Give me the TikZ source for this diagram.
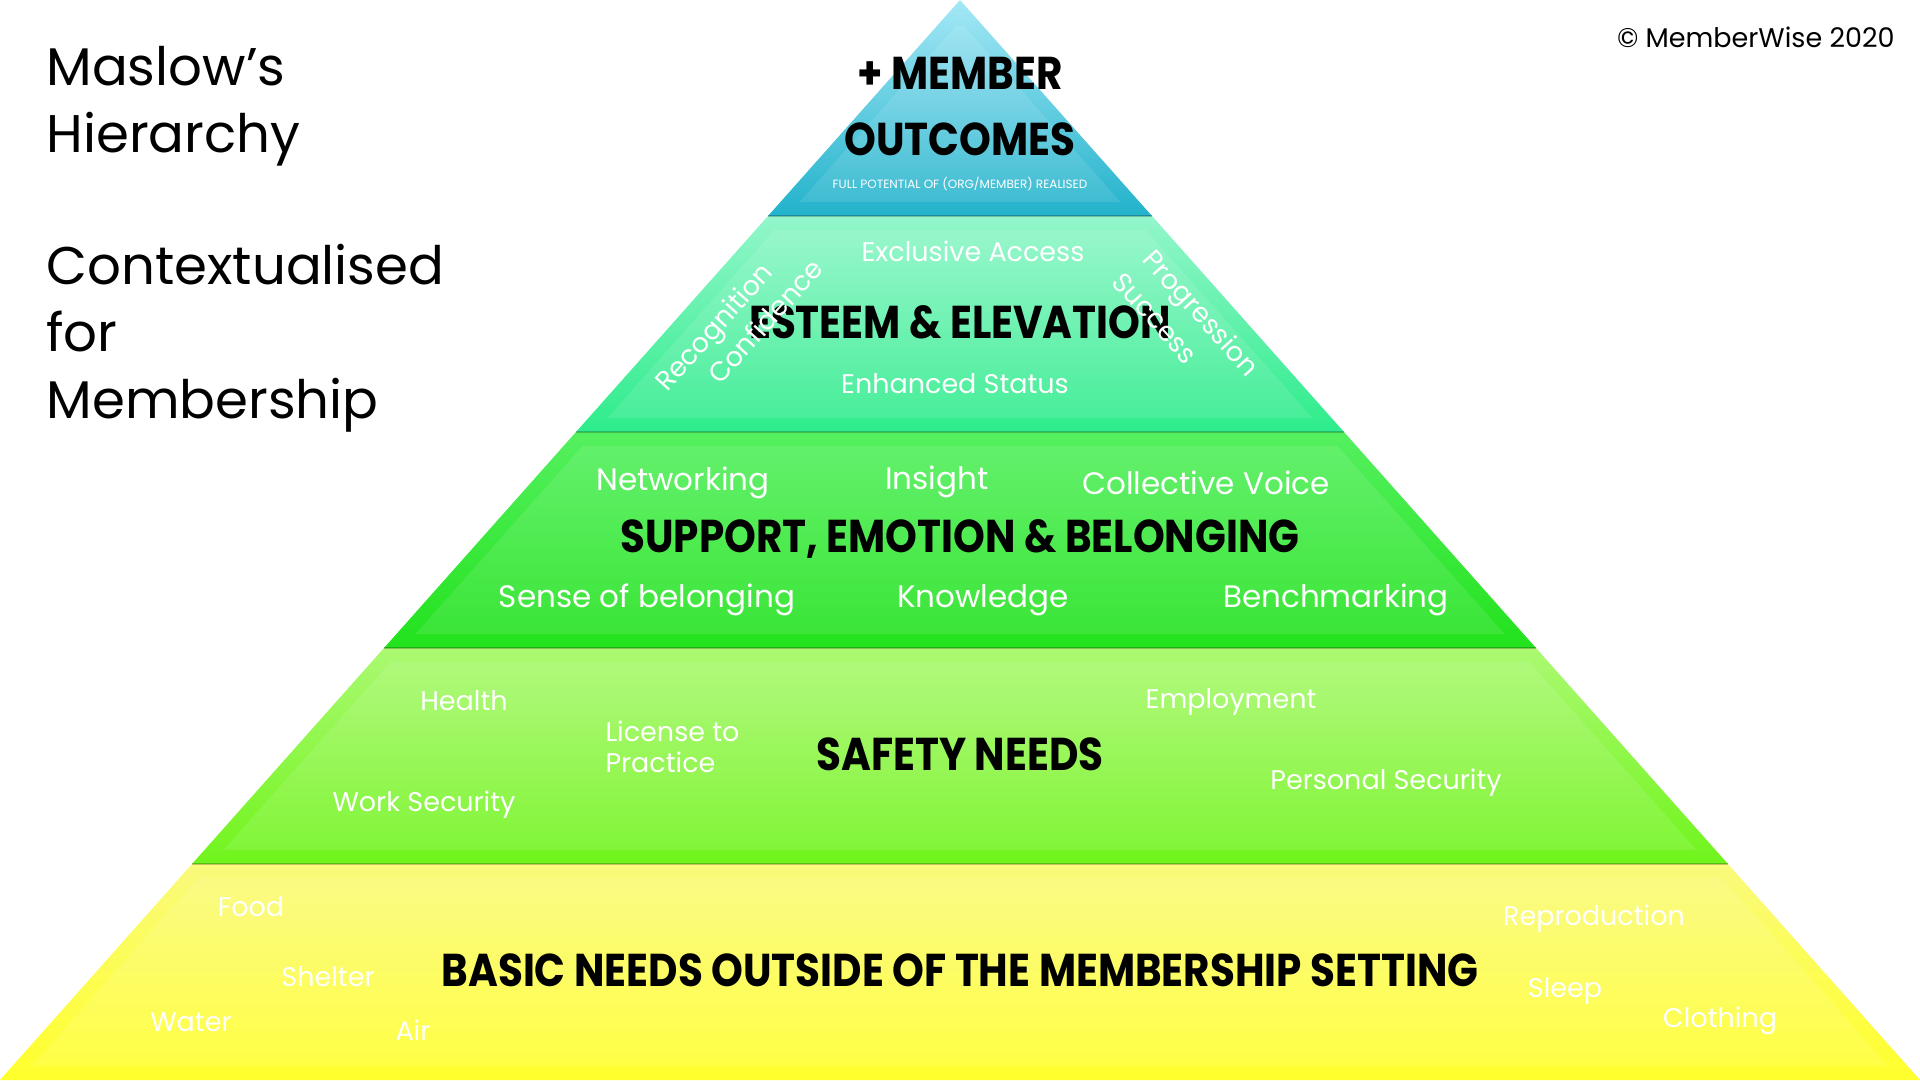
\documentclass[tikz,border=0pt]{standalone}
\usepackage{fontspec}
\setmainfont{Poppins}
\newfontfamily\headfont[FakeStretch=0.88]{Poppins}

\definecolor{capTop}{HTML}{A4E8F6}
\definecolor{capBot}{HTML}{22B2CB}
\definecolor{estTop}{HTML}{93F6CB}
\definecolor{estBot}{HTML}{2DEC8A}
\definecolor{supTop}{HTML}{55F060}
\definecolor{supBot}{HTML}{22E21C}
\definecolor{safTop}{HTML}{ABF972}
\definecolor{safBot}{HTML}{70F41C}
\definecolor{basTop}{HTML}{FAFA7C}
\definecolor{basBot}{HTML}{FFFF2C}

\begin{document}
\begin{tikzpicture}[
    x=1pt, y=-1pt,
    heading/.style={font=\headfont\bfseries\fontsize{46}{66}\selectfont, align=center},
    tag/.style={text=white, font=\fontsize{27}{31}\selectfont, align=left},
    bigtag/.style={tag, font=\fontsize{31}{35}\selectfont},
    title/.style={anchor=base west, align=left, font=\fontsize{53}{67}\selectfont}
]
\useasboundingbox (0,0) rectangle (1920,1080);

% pyramid layers, apex at (960,0), base on the bottom edge
\foreach \ya/\yb/\yi/\ct/\cb in {0/216/26/capTop/capBot, 216/432/230/estTop/estBot,
    432/648/446/supTop/supBot, 648/864/662/safTop/safBot, 864/1080/878/basTop/basBot} {
  \shade[top color=\ct, bottom color=\cb]
    ({960-0.8889*\ya},\ya) -- ({960+0.8889*\ya},\ya) -- ({960+0.8889*\yb},\yb) -- ({960-0.8889*\yb},\yb) -- cycle;
  \fill[white, opacity=.1]
    ({960-0.8889*\yi+19},\yi) -- ({960+0.8889*\yi-19},\yi) -- ({960+0.8889*(\yb-14)-19},\yb-14) -- ({960-0.8889*(\yb-14)+19},\yb-14) -- cycle;
  \draw[black, opacity=.22, line width=2.5] ({960-0.8889*\ya},\ya) -- ({960+0.8889*\ya},\ya);
}

\node[title] (maslow) at (43,152) {Maslow’s\\Hierarchy};
\node[title] (context) at (43,418) {Contextualised\\for\\Membership};
\node[anchor=base east, font=\fontsize{27}{31}\selectfont] (credit) at (1898,47) {© MemberWise 2020};

% top
\node[heading] (outcomes) at (960,107) {+ MEMBER\\OUTCOMES};
\node[text=white, font=\fontsize{12}{14}\selectfont] (potential) at (960,184) {FULL POTENTIAL OF (ORG/MEMBER) REALISED};

% esteem
\node[heading] (esteem) at (960,322) {ESTEEM \& ELEVATION};
\node[tag] (exclusive) at (973,251) {Exclusive Access};
\node[tag] (enhanced) at (955,384) {Enhanced Status};
\node[tag, rotate=48] (recognition) at (716,329) {Recognition};
\node[tag, rotate=48] (confidence) at (765,321) {Confidence};
\node[tag, rotate=-48] (progression) at (1199,315) {Progression};
\node[tag, rotate=-48] (success) at (1155,318) {Success};

% support
\node[heading] (support) at (960,539) {SUPPORT, EMOTION \& BELONGING};
\node[bigtag] (networking) at (683,483) {Networking};
\node[bigtag] (insight) at (937,482) {Insight};
\node[bigtag] (voice) at (1206,483) {Collective Voice};
\node[bigtag] (belonging) at (647,600) {Sense of belonging};
\node[bigtag] (knowledge) at (983,600) {Knowledge};
\node[bigtag] (benchmark) at (1336,600) {Benchmarking};

% safety
\node[heading] (safety) at (960,754) {SAFETY NEEDS};
\node[tag] (health) at (464,701) {Health};
\node[tag, anchor=west] (license) at (602,747) {License to\\Practice};
\node[tag] (employment) at (1231,702) {Employment};
\node[tag] (work) at (424,805) {Work Security};
\node[tag] (personal) at (1386,783) {Personal Security};

% basic
\node[heading] (basic) at (960,970) {BASIC NEEDS OUTSIDE OF THE MEMBERSHIP SETTING};
\node[tag] (food) at (251,907) {Food};
\node[tag] (shelter) at (328,977) {Shelter};
\node[tag] (water) at (191,1022) {Water};
\node[tag] (air) at (413,1030) {Air};
\node[tag] (reproduction) at (1594,919) {Reproduction};
\node[tag] (sleep) at (1565,991) {Sleep};
\node[tag] (clothing) at (1720,1021) {Clothing};
\end{tikzpicture}
\end{document}
